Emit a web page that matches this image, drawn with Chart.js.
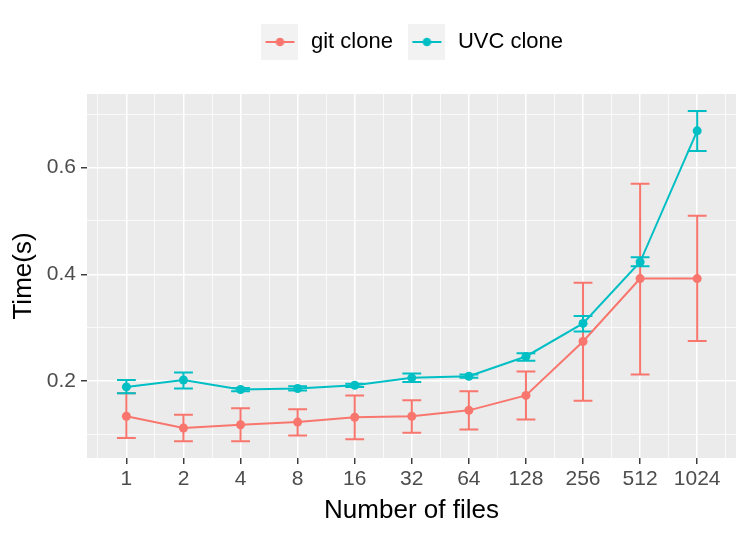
<!DOCTYPE html>
<html lang="en">
<head>
  <meta charset="UTF-8" />
  <title>git clone vs UVC clone</title>
  <script src="https://cdn.jsdelivr.net/npm/chart.js"></script>
  <style>
    body {
      margin: 0;
      background: #ffffff;
    }

    .chart-box {
      width: 747px;
      height: 537px;
    }
  </style>
</head>

<body>
  <div class="chart-box">
    <canvas id="cloneChart"></canvas>
  </div>

  <script>
    // values
    const fileCounts = ["1", "2", "4", "8", "16", "32", "64", "128", "256", "512", "1024"];
    const seriesNames = ["git clone", "UVC clone"];

    const gitMean = [0.134, 0.112, 0.118, 0.123, 0.132, 0.134, 0.145, 0.173, 0.274, 0.392, 0.392];
    const gitLow  = [0.093, 0.087, 0.087, 0.098, 0.091, 0.103, 0.109, 0.128, 0.163, 0.212, 0.275];
    const gitHigh = [0.177, 0.137, 0.149, 0.147, 0.173, 0.164, 0.181, 0.218, 0.384, 0.570, 0.510];

    const uvcMean = [0.189, 0.202, 0.184, 0.186, 0.192, 0.206, 0.209, 0.246, 0.308, 0.423, 0.669];
    const uvcLow  = [0.177, 0.186, 0.181, 0.182, 0.189, 0.198, 0.206, 0.238, 0.293, 0.415, 0.631];
    const uvcHigh = [0.202, 0.216, 0.187, 0.190, 0.195, 0.214, 0.212, 0.252, 0.322, 0.432, 0.706];

    const yTicks = [0.1, 0.2, 0.3, 0.4, 0.5, 0.6, 0.7];

    const RED = "#F8766D";
    const CYAN = "#00BFC4";
    const FONT = "'Liberation Sans', Arial, Helvetica, sans-serif";

    const toPoints = (arr) => arr.map((v, i) => ({ x: i + 1, y: v }));
    const isMajorY = (v) => Math.round(v * 10) % 2 === 0;

    // legend key: grey square with a line and a dot, like ggplot
    const makeKey = (color) => {
      const c = document.createElement("canvas");
      c.width = 37;
      c.height = 36;
      const g = c.getContext("2d");
      g.fillStyle = "#F2F2F2";
      g.fillRect(0, 0, 37, 36);
      g.strokeStyle = color;
      g.lineWidth = 2;
      g.beginPath();
      g.moveTo(4, 18);
      g.lineTo(33, 18);
      g.stroke();
      g.fillStyle = color;
      g.beginPath();
      g.arc(18.5, 18, 4.3, 0, Math.PI * 2);
      g.fill();
      return c;
    };
    const legendKeys = [makeKey(RED), makeKey(CYAN)];

    const panelBackground = {
      id: "panelBackground",
      beforeDraw(chart) {
        const { ctx, chartArea: a } = chart;
        ctx.save();
        ctx.fillStyle = "#EBEBEB";
        ctx.fillRect(a.left, a.top, a.right - a.left, a.bottom - a.top);
        ctx.restore();
      }
    };

    // extra room between legend and panel
    const legendGap = {
      id: "legendGap",
      beforeLayout(chart) {
        const lg = chart.legend;
        if (!lg || lg._gapPatched) return;
        const fit = lg.fit;
        lg.fit = function () {
          fit.call(this);
          this.height += 31;
        };
        lg._gapPatched = true;
      }
    };

    const errorBars = {
      id: "errorBars",
      beforeDatasetsDraw(chart) {
        const { ctx, scales: { x, y } } = chart;
        const bars = [
          { low: gitLow, high: gitHigh, color: RED },
          { low: uvcLow, high: uvcHigh, color: CYAN }
        ];
        ctx.save();
        ctx.lineWidth = 2;
        bars.forEach(b => {
          ctx.strokeStyle = b.color;
          b.low.forEach((lo, i) => {
            const cx = x.getPixelForValue(i + 1);
            const x0 = x.getPixelForValue(i + 1 - 0.165);
            const x1 = x.getPixelForValue(i + 1 + 0.165);
            const yLo = y.getPixelForValue(lo);
            const yHi = y.getPixelForValue(b.high[i]);
            ctx.beginPath();
            ctx.moveTo(cx, yLo);
            ctx.lineTo(cx, yHi);
            ctx.moveTo(x0, yLo);
            ctx.lineTo(x1, yLo);
            ctx.moveTo(x0, yHi);
            ctx.lineTo(x1, yHi);
            ctx.stroke();
          });
        });
        ctx.restore();
      }
    };

    new Chart(document.getElementById("cloneChart"), {
      type: "line",
      data: {
        datasets: [
          {
            label: seriesNames[0],
            data: toPoints(gitMean),
            borderColor: RED,
            backgroundColor: RED,
            borderWidth: 2,
            pointRadius: 4.5,
            pointBorderWidth: 0,
            tension: 0
          },
          {
            label: seriesNames[1],
            data: toPoints(uvcMean),
            borderColor: CYAN,
            backgroundColor: CYAN,
            borderWidth: 2,
            pointRadius: 4.5,
            pointBorderWidth: 0,
            tension: 0
          }
        ]
      },
      options: {
        responsive: true,
        maintainAspectRatio: false,
        animation: false,
        layout: { padding: { top: 17, left: 0, right: 11, bottom: 0 } },
        plugins: {
          tooltip: { enabled: false },
          legend: {
            position: "top",
            fullSize: false,
            labels: {
              usePointStyle: true,
              pointStyleWidth: 40,
              padding: 14,
              color: "#000000",
              font: { family: FONT, size: 22 },
              generateLabels(chart) {
                const items = Chart.defaults.plugins.legend.labels.generateLabels(chart);
                items.forEach((it, i) => { it.pointStyle = legendKeys[i]; });
                return items;
              }
            }
          }
        },
        scales: {
          x: {
            type: "linear",
            min: 0.31,
            max: 11.68,
            afterBuildTicks(scale) {
              const t = [];
              for (let v = 0.5; v <= 11.5; v += 0.5) t.push({ value: v });
              scale.ticks = t;
            },
            afterFit(scale) { scale.height = 79; },
            border: { display: false },
            grid: {
              color: "#FFFFFF",
              lineWidth: c => Number.isInteger(c.tick.value) ? 1.5 : 0.75,
              tickColor: c => Number.isInteger(c.tick.value) ? "#333333" : "rgba(0,0,0,0)",
              tickLength: 6,
              tickWidth: 1.4
            },
            ticks: {
              autoSkip: false,
              maxRotation: 0,
              padding: 3,
              color: "#4D4D4D",
              font: { family: FONT, size: 21 },
              callback: v => Number.isInteger(v) ? fileCounts[v - 1] : ""
            },
            title: {
              display: true,
              text: "Number of files",
              color: "#000000",
              font: { family: FONT, size: 26 },
              padding: { top: 0, bottom: 11 }
            }
          },
          y: {
            min: 0.0557,
            max: 0.738,
            afterBuildTicks(scale) {
              scale.ticks = yTicks.map(v => ({ value: v }));
            },
            afterFit(scale) { scale.width = 87; },
            border: { display: false },
            grid: {
              color: "#FFFFFF",
              lineWidth: c => isMajorY(c.tick.value) ? 1.5 : 0.75,
              tickColor: c => isMajorY(c.tick.value) ? "#333333" : "rgba(0,0,0,0)",
              tickLength: 6,
              tickWidth: 1.4
            },
            ticks: {
              autoSkip: false,
              padding: 5,
              color: "#4D4D4D",
              font: { family: FONT, size: 21 },
              callback: v => isMajorY(v) ? v.toFixed(1) : ""
            },
            title: {
              display: true,
              text: "Time(s)",
              color: "#000000",
              font: { family: FONT, size: 26 },
              padding: { top: 8, bottom: 0 }
            }
          }
        }
      },
      plugins: [panelBackground, legendGap, errorBars]
    });
  </script>
</body>
</html>
